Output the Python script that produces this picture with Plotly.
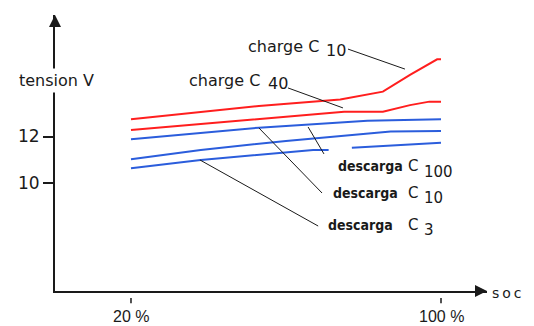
import plotly.graph_objects as go

# ---- data (SOC in %, tension in V) ----
soc_charge_c10 = [20, 38, 53, 74, 85, 92, 99, 100]
v_charge_c10 = [12.74, 13.05, 13.31, 13.59, 13.93, 14.65, 15.32, 15.32]

soc_charge_c40 = [20, 38, 53, 75, 85, 92, 97, 100]
v_charge_c40 = [12.28, 12.54, 12.76, 13.07, 13.07, 13.35, 13.50, 13.50]

soc_desc_c100 = [20, 38, 53, 81, 100]
v_desc_c100 = [11.88, 12.15, 12.38, 12.68, 12.74]

soc_desc_c10 = [20, 38, 60, 87, 100]
v_desc_c10 = [11.02, 11.42, 11.81, 12.21, 12.24]

soc_desc_c3 = [20, 38, 67, 71, None, 77, 100]
v_desc_c3 = [10.63, 10.99, 11.42, 11.42, None, 11.52, 11.73]

# leader lines (label -> curve)
lead_charge_c10 = ([76.0, 90.7], [15.76, 14.90])
lead_charge_c40 = ([60.5, 74.7], [14.09, 13.23])
lead_desc_c100 = ([65.7, 69.8], [12.41, 11.25])
lead_desc_c10 = ([53.0, 69.3], [12.37, 9.57])
lead_desc_c3 = ([37.8, 68.3], [10.99, 8.15])

y_tickvals = [10, 12]
y_ticktext = ["10", "12"]
x_tickvals = [20, 100]
x_ticktext = ["20 %", "100 %"]

RED = "#ff1e1e"
BLUE = "#2b5ddc"
INK = "#1a1a1a"

fig = go.Figure()
for xs, ys, col in [
    (soc_charge_c10, v_charge_c10, RED),
    (soc_charge_c40, v_charge_c40, RED),
    (soc_desc_c100, v_desc_c100, BLUE),
    (soc_desc_c10, v_desc_c10, BLUE),
    (soc_desc_c3, v_desc_c3, BLUE),
]:
    fig.add_trace(go.Scatter(x=xs, y=ys, mode="lines", connectgaps=False,
                             line=dict(color=col, width=2), hoverinfo="skip"))

for xs, ys in [lead_charge_c10, lead_charge_c40, lead_desc_c100, lead_desc_c10, lead_desc_c3]:
    fig.add_trace(go.Scatter(x=xs, y=ys, mode="lines",
                             line=dict(color=INK, width=1), hoverinfo="skip"))

SANS = "DejaVu Sans, sans-serif"
NARROW = "DejaVu Sans Condensed, Liberation Sans Narrow, sans-serif"

ann = []

def label(x, y, text, font, size, bold=False):
    t = f"<b>{text}</b>" if bold else text
    ann.append(dict(x=x, y=y, xref="x", yref="y", text=t, showarrow=False,
                    xanchor="left", yanchor="middle",
                    font=dict(family=font, size=size, color=INK)))

label(49.7, 15.86, "charge C", SANS, 16)
label(69.9, 15.69, "10", SANS, 16)
label(34.5, 14.43, "charge C", SANS, 16)
label(54.8, 14.26, "40", SANS, 16)

label(72.8, 10.73, "descarga", NARROW, 14, bold=True)
label(91.0, 10.73, "C", SANS, 15)
label(95.0, 10.47, "100", SANS, 15)
label(71.7, 9.57, "descarga", NARROW, 14, bold=True)
label(91.0, 9.57, "C", SANS, 15)
label(95.0, 9.35, "10", SANS, 15)
label(70.2, 8.19, "descarga", NARROW, 14, bold=True)
label(91.0, 8.19, "C", SANS, 15)
label(95.0, 7.98, "3", SANS, 15)

# axis title on y axis (covers the axis line)
ann.append(dict(x=0, y=14.43, xref="paper", yref="y", text="tension V", showarrow=False,
                xanchor="center", yanchor="middle", xshift=1, bgcolor="white", borderpad=2,
                font=dict(family=SANS, size=16, color=INK)))
# x axis title
ann.append(dict(x=1, y=0, xref="paper", yref="paper", text='<span style="letter-spacing:3px">soc</span>',
                showarrow=False, xanchor="left", yanchor="middle", xshift=3, yshift=-2,
                font=dict(family=SANS, size=14, color=INK)))
# arrow heads of the axes
ann.append(dict(x=0, y=1, xref="paper", yref="paper", ax=0, ay=12, axref="pixel", ayref="pixel",
                text="", showarrow=True, arrowhead=2, arrowsize=1.2, arrowwidth=2, arrowcolor=INK))
ann.append(dict(x=1, y=0, xref="paper", yref="paper", ax=-12, ay=0, axref="pixel", ayref="pixel",
                text="", showarrow=True, arrowhead=2, arrowsize=1.2, arrowwidth=2, arrowcolor=INK))
# x tick labels
for v, t in zip(x_tickvals, x_ticktext):
    ann.append(dict(x=v, y=-0.094, xref="x", yref="paper", text=t, showarrow=False,
                    xanchor="center", yanchor="middle",
                    font=dict(family="Liberation Sans, sans-serif", size=16, color=INK)))

shapes = [dict(type="line", xref="x", yref="paper", x0=v, x1=v, y0=-0.025, y1=-0.044,
               line=dict(color=INK, width=1.5)) for v in x_tickvals]

fig.update_layout(
    width=534, height=326,
    margin=dict(l=55, r=47, t=15, b=35, autoexpand=False),
    paper_bgcolor="white", plot_bgcolor="white",
    showlegend=False, hovermode=False,
    annotations=ann, shapes=shapes,
    xaxis=dict(range=[0.39, 111.87], showgrid=False, zeroline=False, showticklabels=False,
               ticks="", showline=True, linecolor=INK, linewidth=2, fixedrange=True),
    yaxis=dict(range=[5.355, 17.226], showgrid=False, zeroline=False,
               tickvals=y_tickvals, ticktext=y_ticktext, ticks="outside", ticklen=10,
               tickwidth=2, tickcolor=INK, showline=True, linecolor=INK, linewidth=2,
               tickfont=dict(family=SANS, size=17, color=INK), fixedrange=True),
)

fig.write_html("out.html", config={"displayModeBar": False},
               post_script="document.body.style.margin='0px';document.body.style.overflow='hidden';")
